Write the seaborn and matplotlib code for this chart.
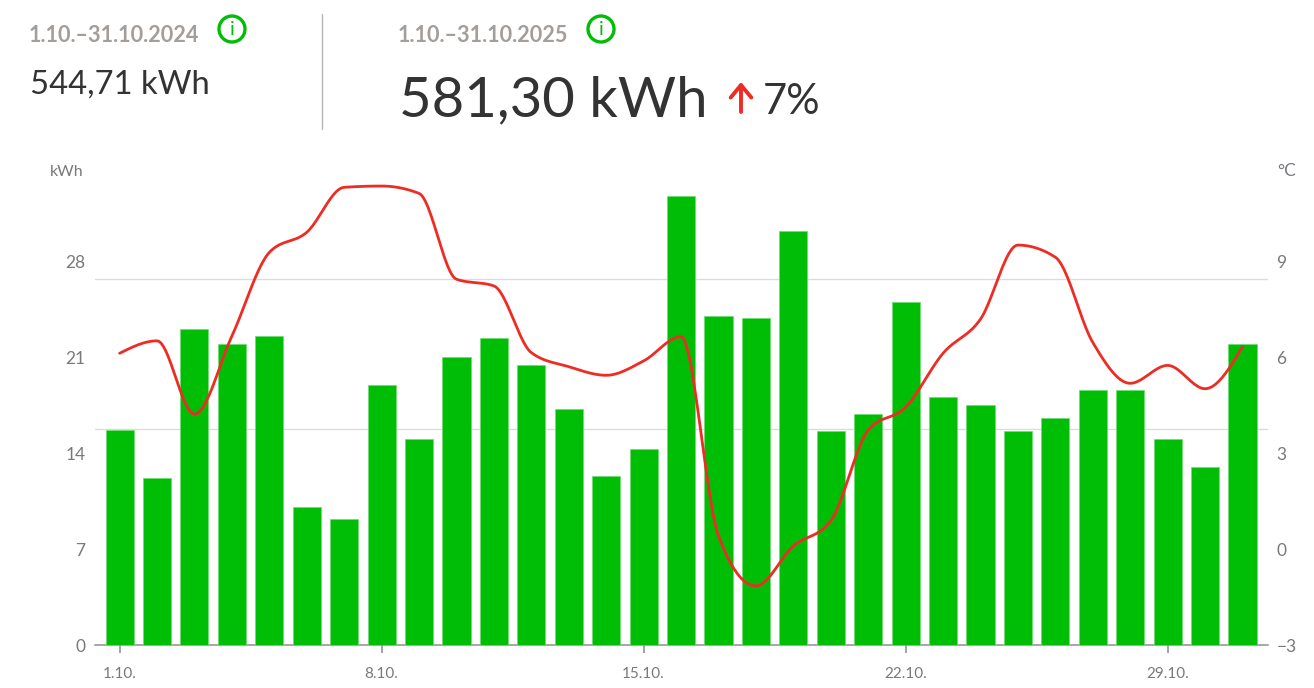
import numpy as np
import pandas as pd
import matplotlib
matplotlib.use("Agg")
import matplotlib.pyplot as plt
from matplotlib.patches import Circle
import seaborn as sns

days = list(range(1, 32))
energy_kwh = [15.72, 12.21, 23.10, 22.00, 22.59, 10.09, 9.21, 19.00, 15.06, 21.05, 22.44,
              20.47, 17.25, 12.35, 14.33, 32.82, 24.05, 23.90, 30.26, 15.64, 16.89, 25.07,
              18.13, 17.54, 15.64, 16.59, 18.64, 18.64, 15.06, 13.01, 22.00]
temperature_c = [6.14, 6.53, 4.23, 6.68, 9.30, 9.93, 11.34, 11.38, 11.15, 8.46, 8.25,
                 6.16, 5.72, 5.45, 5.90, 6.66, 0.42, -1.15, 0.10, 0.89, 3.73, 4.45,
                 6.14, 7.21, 9.53, 9.15, 6.48, 5.20, 5.76, 5.03, 6.35]
left_ticks = [0, 7, 14, 21, 28]
right_ticks = [-3, 0, 3, 6, 9]
right_labels = ["\u22123", "0", "3", "6", "9"]
x_tick_days = [1, 8, 15, 22, 29]
x_tick_labels = ["1.10.", "8.10.", "15.10.", "22.10.", "29.10."]
grid_values = [15.79, 26.75]
period_prev = "1.10.\u201331.10.2024"
period_curr = "1.10.\u201331.10.2025"
total_prev = "544,71 kWh"
total_curr = "581,30 kWh"
change = "7%"

GREEN = "#00BE06"
EDGE = "#6FDC72"
RED = "#EE2C24"
TXT = "#77797C"
FONT = "Lato"
W, H = 1314, 688


def monotone_curve(y, n=24):
    """Smooth monotone cubic through the daily values, as the chart's line is drawn."""
    y = np.asarray(y, float)
    d = np.diff(y)
    m = np.zeros_like(y)
    for i in range(1, len(y) - 1):
        p = (d[i - 1] + d[i]) / 2
        m[i] = (np.sign(d[i - 1]) + np.sign(d[i])) * min(abs(d[i - 1]), abs(d[i]), abs(p) / 2)
    m[0] = (3 * d[0] - m[1]) / 2
    m[-1] = (3 * d[-1] - m[-2]) / 2
    xs, ys = [], []
    for i in range(len(y) - 1):
        t = np.linspace(0, 1, n, endpoint=False)
        h00, h10 = 2*t**3 - 3*t**2 + 1, t**3 - 2*t**2 + t
        h01, h11 = -2*t**3 + 3*t**2, t**3 - t**2
        xs.append(i + t)
        ys.append(h00*y[i] + h10*m[i] + h01*y[i+1] + h11*m[i+1])
    xs.append([len(y) - 1.0])
    ys.append([y[-1]])
    return np.concatenate(xs), np.concatenate(ys)


sns.set_theme(style="white")
plt.rcParams["font.family"] = [FONT, "DejaVu Sans"]

fig = plt.figure(figsize=(W / 100, H / 100), dpi=100, facecolor="white")
L, R, T, B = 95, 1268, 150, 645
ax = fig.add_axes([L / W, 1 - B / H, (R - L) / W, (B - T) / H])
ax.set_facecolor("none")

df = pd.DataFrame({"day": days, "kwh": energy_kwh})
sns.barplot(data=df, x="day", y="kwh", color=GREEN, saturation=1, width=0.75,
            edgecolor=EDGE, linewidth=0.5, ax=ax, zorder=3)
step = 37.43
ax.set_xlim((L - 119.6) / step, (R - 119.6) / step)
unit_l = 95.75 / 7
ax.set_ylim(0, (B - T) / unit_l)
for g in grid_values:
    ax.axhline(g, color="#DCDCDC", lw=1.0, zorder=1)
ax.set_xlabel("")
ax.set_ylabel("")
ax.set_yticks(left_ticks)
ax.set_yticklabels([str(v) for v in left_ticks], fontsize=12.5, color=TXT)
ax.set_xticks([d - 1 for d in x_tick_days])
ax.set_xticklabels(x_tick_labels, fontsize=11, color=TXT)
ax.tick_params(axis="x", length=5.5, width=1.1, color="#8A8A8A", pad=10, bottom=True)
ax.tick_params(axis="y", length=0, pad=7)
for s in ["top", "left", "right"]:
    ax.spines[s].set_visible(False)
ax.spines["bottom"].set_color("#8F8F8F")
ax.spines["bottom"].set_linewidth(1.1)

ax2 = ax.twinx()
ax2.set_facecolor("none")
unit_r = 95.75 / 3
ax2.set_ylim(-3, -3 + (B - T) / unit_r)
cx, cy = monotone_curve(temperature_c)
sns.lineplot(x=cx, y=cy, color=RED, lw=2.0, ax=ax2, zorder=5, errorbar=None, sort=False)
ax2.set_xlim(ax.get_xlim())
ax2.set_ylabel("")
ax2.set_yticks(right_ticks)
ax2.set_yticklabels(right_labels, fontsize=12.5, color=TXT)
ax2.tick_params(axis="y", length=0, pad=6)
for s in ax2.spines.values():
    s.set_visible(False)

# overlay in figure pixels for the header
ov = fig.add_axes([0, 0, 1, 1], facecolor="none")
ov.set_xlim(0, W)
ov.set_ylim(H, 0)
ov.axis("off")


def label(x, y, s, size, color="#333333", weight="normal", ha="left"):
    ov.text(x, y, s, fontsize=size, color=color, fontweight=weight, ha=ha, va="center_baseline")


label(29, 33, period_prev, 15.6, "#A39E9A", "bold")
label(398, 33, period_curr, 15.6, "#A39E9A", "bold")
label(30, 82, total_prev, 23.6)
label(399, 96, total_curr, 40.5)
label(763, 98, change, 30)
label(50, 170, "kWh", 11.5, TXT)
label(1277, 170, "\u00b0C", 12.5, TXT)
ov.plot([322, 322], [14, 129], color="#B5B5B5", lw=1.0)
for x in (232, 601):
    ov.add_patch(Circle((x, 29), 13, fill=False, ec=GREEN, lw=2.4))
    ov.text(x, 29.5, "i", fontsize=14, color=GREEN, ha="center", va="center")
ov.annotate("", xy=(741, 82), xytext=(741, 112),
            arrowprops=dict(arrowstyle="->,head_length=0.75,head_width=0.62", color=RED, lw=2.8,
                            shrinkA=0, shrinkB=0))

fig.savefig("out.png", dpi=100, facecolor="white")
